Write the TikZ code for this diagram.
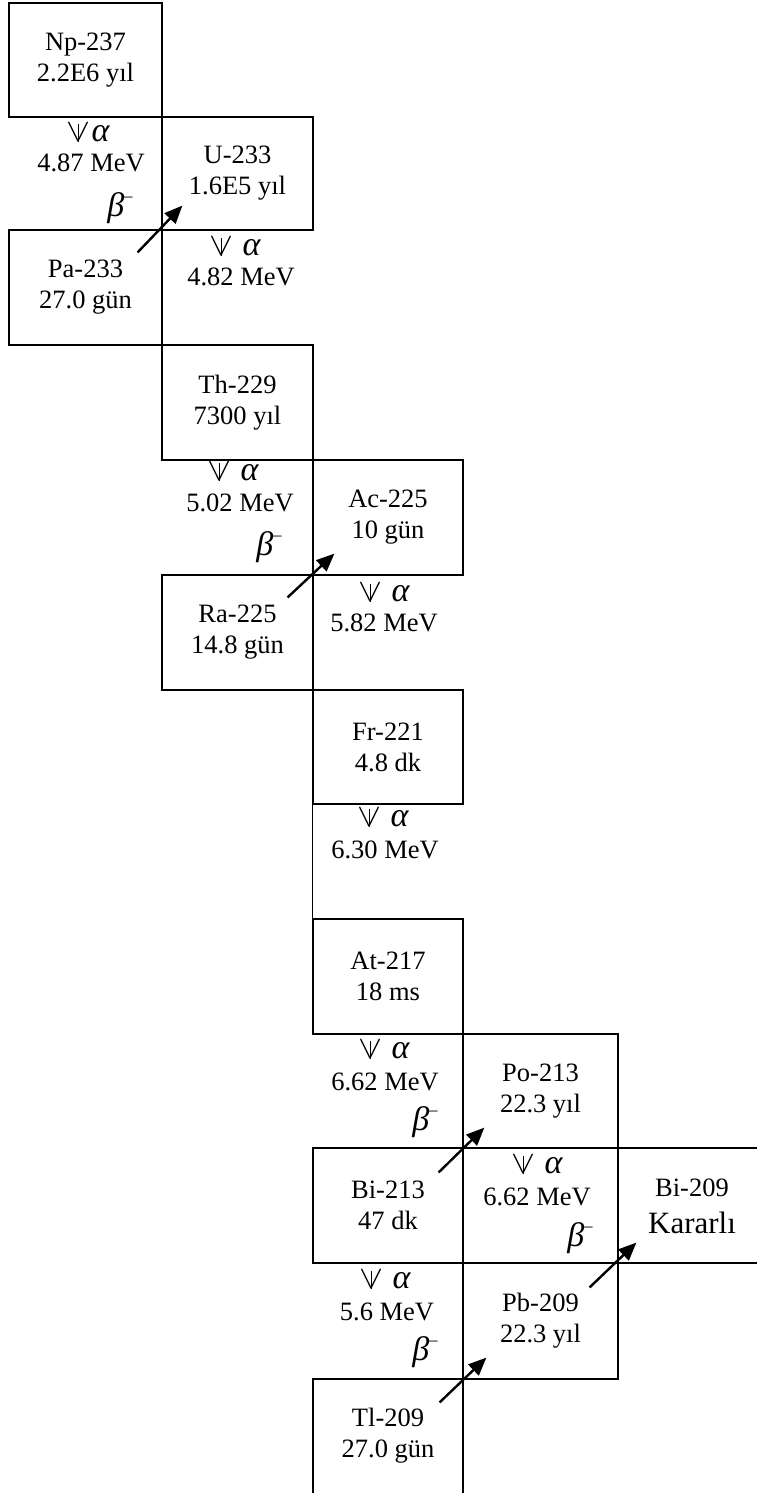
\documentclass[tikz,border=0pt]{standalone}
\usepackage{fontspec}
\usepackage{graphicx}
\setmainfont{Liberation Serif}
\usetikzlibrary{arrows.meta,calc}
\newcommand\nucfont{\fontsize{26.5}{31}\selectfont}
\newcommand\gr[1]{{\fontsize{34}{34}\selectfont\itshape #1}}
\newcommand\dn{\rlap{\resizebox{24pt}{18pt}{$\vee$}}\makebox[24pt]{\rule{1.3pt}{18pt}}}
\newcommand\bm{\gr{β}\raisebox{15pt}{\fontsize{17}{17}\selectfont –}}
\tikzset{
  nuc/.style={draw, line width=1.2pt, inner sep=0pt, align=center, font=\nucfont},
  txt/.style={inner sep=0pt, align=center, font=\nucfont},
  lbl/.style={inner sep=0pt, font=\nucfont},
  betaarrow/.style={line width=2.4pt, -{Triangle[length=18pt,width=15pt]}},
  edge/.style={line width=1.2pt}
}
\begin{document}
\begin{tikzpicture}[x=1pt,y=-1pt]
\useasboundingbox (0,0) rectangle (757,1493);
\clip (0,0) rectangle (757,1493);
\fill[white] (0,0) rectangle (757,1493);
% nuclide boxes
\node[nuc, minimum width=153pt, minimum height=114pt] (np) at (85.5,60) {Np-237\\2.2E6 yıl};
\node[nuc, minimum width=151pt, minimum height=113pt] (u) at (237.5,173.5) {U-233\\1.6E5 yıl};
\node[nuc, minimum width=153pt, minimum height=115pt] (pa) at (85.5,287.5) {Pa-233\\27.0 gün};
\node[nuc, minimum width=151pt, minimum height=115pt] (th) at (237.5,402.5) {Th-229\\7300 yıl};
\node[nuc, minimum width=150pt, minimum height=115pt] (ac) at (388,517.5) {Ac-225\\10 gün};
\node[nuc, minimum width=151pt, minimum height=115pt] (ra) at (237.5,632.5) {Ra-225\\14.8 gün};
\node[nuc, minimum width=150pt, minimum height=114pt] (fr) at (388,747) {Fr-221\\4.8 dk};
\node[nuc, minimum width=150pt, minimum height=115pt] (at) at (388,976.5) {At-217\\18 ms};
\node[nuc, minimum width=155pt, minimum height=114pt] (po) at (540.5,1091) {Po-213\\22.3 yıl};
\node[nuc, minimum width=150pt, minimum height=115pt] (bi213) at (388,1205.5) {Bi-213\\47 dk};
\node[nuc, minimum width=160pt, minimum height=115pt] (bi209) at (698,1205.5) {};
\node[txt] (bi209a) at (692,1188) {Bi-209};
\node[txt, font=\fontsize{31}{35}\selectfont] (bi209b) at (692,1223) {Kararlı};
\node[nuc, minimum width=155pt, minimum height=116pt] (pb) at (540.5,1321) {Pb-209\\22.3 yıl};
\node[nuc, minimum width=150pt, minimum height=140pt] (tlbox) at (388,1449) {};
\node[txt] (tl) at (388,1436) {Tl-209\\27.0 gün};
% extra border segment
\draw[edge] (fr.south west) -- (at.north west);
% alpha / beta labels
\node[lbl] (a1s) at (88,133) {\dn\hspace{1pt}\gr{α}};
\node[lbl] (a1e) at (91,163) {4.87 MeV};
\node[lbl] (a1b) at (120,208) {\bm};
\node[lbl] (a2s) at (235,247) {\dn\hspace{9pt}\gr{α}};
\node[lbl] (a2e) at (241,277) {4.82 MeV};
\node[lbl] (a3s) at (233,472) {\dn\hspace{9pt}\gr{α}};
\node[lbl] (a3e) at (240,503) {5.02 MeV};
\node[lbl] (a3b) at (269,547) {\bm};
\node[lbl] (a4s) at (384,593) {\dn\hspace{9pt}\gr{α}};
\node[lbl] (a4e) at (384,623) {5.82 MeV};
\node[lbl] (a5s) at (383,818) {\dn\hspace{9pt}\gr{α}};
\node[lbl] (a5e) at (385,850) {6.30 MeV};
\node[lbl] (a6s) at (384,1050) {\dn\hspace{9pt}\gr{α}};
\node[lbl] (a6e) at (385,1082) {6.62 MeV};
\node[lbl] (a6b) at (425,1122) {\bm};
\node[lbl] (a7s) at (537,1165) {\dn\hspace{9pt}\gr{α}};
\node[lbl] (a7e) at (537,1197) {6.62 MeV};
\node[lbl] (a7b) at (580,1238) {\bm};
\node[lbl] (a8s) at (385,1280) {\dn\hspace{9pt}\gr{α}};
\node[lbl] (a8e) at (387,1312) {5.6 MeV};
\node[lbl] (a8b) at (425,1352) {\bm};
% beta arrows
\draw[betaarrow] ($(pa.north east)+(-25,23)$) -- ($(u.south west)+(21,-25)$);
\draw[betaarrow] ($(ra.north east)+(-26,23)$) -- ($(ac.south west)+(22,-22)$);
\draw[betaarrow] ($(bi213.north east)+(-25,25)$) -- ($(po.south west)+(22,-21)$);
\draw[betaarrow] ($(pb.north east)+(-29,25)$) -- ($(bi209.south west)+(19,-21)$);
\draw[betaarrow] ($(tlbox.north east)+(-24,24)$) -- ($(pb.south west)+(24,-22)$);
\end{tikzpicture}
\end{document}
